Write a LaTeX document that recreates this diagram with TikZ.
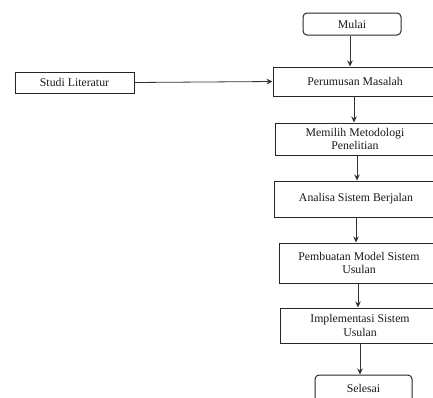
\documentclass[tikz,border=0pt]{standalone}
\usepackage{fontspec}
\setmainfont{Liberation Serif}
\usetikzlibrary{arrows.meta}
\begin{document}
\begin{tikzpicture}[x=1pt,y=-1pt,
  box/.style={draw=black!85, line width=1pt, rectangle, inner sep=0pt, align=center, font=\fontsize{11.8}{13.5}\selectfont, text=black!90},
  term/.style={box, rounded corners=4pt},
  arr/.style={draw=black!80, line width=0.8pt, -{Stealth[length=6pt,width=5.5pt]}}]
\clip (0,0) rectangle (433,397);
\useasboundingbox (0,0) rectangle (433,397);
\node[term, minimum width=98pt, minimum height=22pt] (mulai) at (352,24) {Mulai};
\node[box, minimum width=164pt, minimum height=29pt] (rumus) at (355,81.5) {Perumusan Masalah};
\node[box, minimum width=119pt, minimum height=21pt] (studi) at (74.5,82.5) {Studi Literatur};
\node[box, minimum width=160pt, minimum height=32pt] (metod) at (355,139) {Memilih Metodologi\\Penelitian};
\node[box, minimum width=164pt, minimum height=36pt] (analisa) at (356,199) {Analisa Sistem Berjalan};
\node[box, minimum width=160pt, minimum height=40pt] (model) at (359,263) {Pembuatan Model Sistem\\Usulan};
\node[box, minimum width=160pt, minimum height=35pt] (impl) at (360,325.5) {Implementasi Sistem\\Usulan};
\node[term, minimum width=97pt, minimum height=34pt] (selesai) at (363.5,392) {};
\node[font=\fontsize{11.8}{13.5}\selectfont, text=black!90] (seltext) at (363.5,388) {Selesai};
\draw[arr] (mulai.south -| 350,0) -- (rumus.north -| 350,0);
\draw[arr] (studi.east) -- (rumus.west);
\draw[arr] (354,96) -- (metod.north -| 354,0);
\draw[arr] (metod.south -| 357,0) -- (analisa.north -| 357,0);
\draw[arr] (analisa.south -| 356,0) -- (model.north -| 356,0);
\draw[arr] (model.south -| 358,0) -- (impl.north -| 358,0);
\draw[arr] (impl.south -| 360,0) -- (selesai.north -| 360,0);
\end{tikzpicture}
\end{document}
